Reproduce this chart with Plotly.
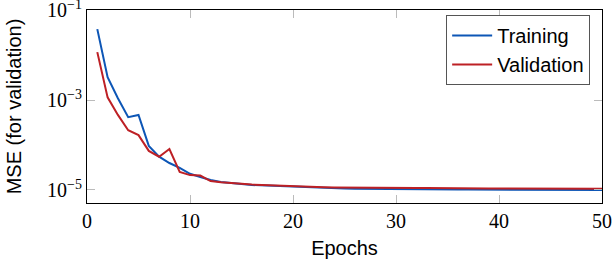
import plotly.graph_objects as go

epochs = list(range(1, 51))
training = [3.8e-2, 3.24e-3, 1.10e-3, 4.17e-4, 4.68e-4, 9.55e-5, 5.5e-5, 3.98e-5, 3.09e-5, 2.29e-5,
            1.95e-5, 1.66e-5, 1.51e-5, 1.41e-5, 1.35e-5, 1.29e-5, 1.26e-5, 1.23e-5, 1.20e-5, 1.17e-5,
            1.15e-5, 1.12e-5, 1.11e-5, 1.10e-5, 1.08e-5, 1.07e-5, 1.07e-5, 1.06e-5, 1.06e-5, 1.05e-5,
            1.05e-5, 1.04e-5, 1.04e-5, 1.03e-5, 1.03e-5, 1.03e-5, 1.02e-5, 1.02e-5, 1.02e-5, 1.02e-5,
            1.01e-5, 1.01e-5, 1.01e-5, 1.01e-5, 1.01e-5, 1.00e-5, 1.00e-5, 1.00e-5, 1.00e-5, 1.00e-5]
validation = [1.17e-2, 1.15e-3, 4.68e-4, 2.14e-4, 1.66e-4, 7.41e-5, 5.5e-5, 8.13e-5, 2.51e-5, 2.14e-5,
              2.09e-5, 1.58e-5, 1.48e-5, 1.41e-5, 1.36e-5, 1.32e-5, 1.29e-5, 1.26e-5, 1.24e-5, 1.21e-5,
              1.18e-5, 1.16e-5, 1.15e-5, 1.14e-5, 1.13e-5, 1.13e-5, 1.12e-5, 1.12e-5, 1.11e-5, 1.11e-5,
              1.10e-5, 1.10e-5, 1.10e-5, 1.09e-5, 1.09e-5, 1.09e-5, 1.09e-5, 1.08e-5, 1.08e-5, 1.08e-5,
              1.08e-5, 1.08e-5, 1.08e-5, 1.07e-5, 1.07e-5, 1.07e-5, 1.07e-5, 1.07e-5, 1.07e-5, 1.07e-5]

x_ticks = [0, 10, 20, 30, 40, 50]
y_tickvals = [1e-1, 1e-3, 1e-5]
y_ticktext = ["10<sup>\u22121</sup>", "10<sup>\u22123</sup>", "10<sup>\u22125</sup>"]

SANS = "Liberation Sans, Arial, sans-serif"
SERIF = "Liberation Serif, DejaVu Serif, serif"

fig = go.Figure()
fig.add_trace(go.Scatter(x=epochs, y=training, mode="lines", name="Training",
                         line=dict(color="#0d56b6", width=2)))
fig.add_trace(go.Scatter(x=epochs, y=validation, mode="lines", name="Validation",
                         line=dict(color="#bd2025", width=2)))

fig.update_layout(
    width=614, height=262,
    margin=dict(l=87, r=12, t=10, b=59, autoexpand=False),
    plot_bgcolor="white", paper_bgcolor="white",
    showlegend=True,
    legend=dict(x=0.977, y=0.974, xanchor="right", yanchor="top",
                bgcolor="white", bordercolor="#555555", borderwidth=1,
                font=dict(family=SANS, size=20, color="black"),
                tracegroupgap=0, itemwidth=40),
    xaxis=dict(range=[0, 50], tickvals=x_ticks, ticks="inside", ticklen=8, tickcolor="#bbbbbb",
               showline=True, linecolor="black", linewidth=1, mirror="ticks", showgrid=False,
               zeroline=False, automargin=False, ticklabeloverflow="allow",
               tickfont=dict(family=SERIF, size=20, color="black"),
               title=dict(text="Epochs", font=dict(family=SANS, size=20, color="black"),
                          standoff=9)),
    yaxis=dict(type="log", range=[-5.29, -0.995], tickvals=y_tickvals, ticktext=y_ticktext,
               ticks="inside", ticklen=8, tickcolor="#bbbbbb",
               showline=True, linecolor="black", linewidth=1, mirror="ticks", showgrid=False,
               zeroline=False, automargin=False, ticklabeloverflow="allow",
               tickfont=dict(family=SERIF, size=20, color="black"),
               title=dict(text="MSE (for validation)", font=dict(family=SANS, size=20, color="black"),
                          standoff=20)),
)

fig.write_html("out.html", config={"displayModeBar": False},
               post_script="document.body.style.margin='0';document.body.style.padding='0';")
